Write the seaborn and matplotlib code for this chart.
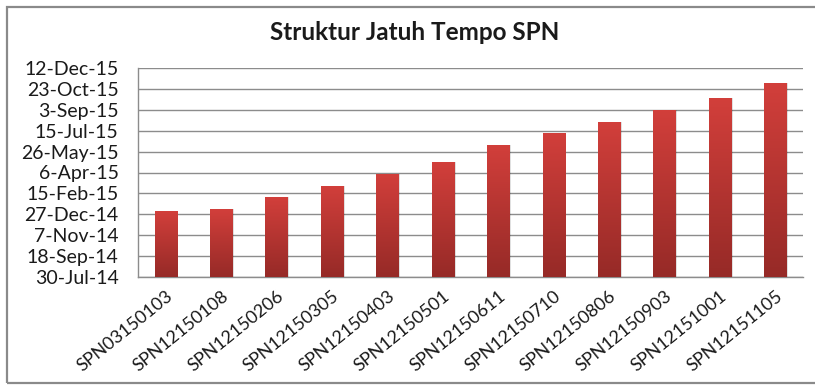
import numpy as np
import pandas as pd
import matplotlib
matplotlib.use("Agg")
import matplotlib.pyplot as plt
from matplotlib.ticker import FixedLocator, FuncFormatter
from matplotlib.patches import Rectangle
import seaborn as sns

# Series and their maturity dates
series = ["SPN03150103", "SPN12150108", "SPN12150206", "SPN12150305",
          "SPN12150403", "SPN12150501", "SPN12150611", "SPN12150710",
          "SPN12150806", "SPN12150903", "SPN12151001", "SPN12151105"]
maturity = ["2015-01-03", "2015-01-08", "2015-02-06", "2015-03-05",
            "2015-04-03", "2015-05-01", "2015-06-11", "2015-07-10",
            "2015-08-06", "2015-09-03", "2015-10-01", "2015-11-05"]

axis_start = "2014-07-30"
axis_step_days = 50
axis_n_ticks = 11

title = "Struktur Jatuh Tempo SPN"

sns.set_theme(style="white")
plt.rcParams["font.family"] = ["Lato", "DejaVu Sans"]

start = pd.Timestamp(axis_start)
mat = pd.to_datetime(maturity)
df = pd.DataFrame({"series": series,
                   "days": (mat - start).days.astype(float)})

fig = plt.figure(figsize=(8.15, 3.86), dpi=100)
ax = fig.add_axes([138 / 815, 1 - 277 / 386, (803 - 138) / 815, (277 - 68) / 386])

sns.barplot(data=df, x="series", y="days", color="#c0392b", width=0.4,
            ax=ax, zorder=3)

# vertical red gradient inside each bar
grad = np.linspace(0, 1, 256).reshape(-1, 1)
cmap = matplotlib.colors.LinearSegmentedColormap.from_list(
    "bar", ["#962a27", "#d23f3b"])
for p in list(ax.patches):
    x0, y0 = p.get_x(), p.get_y()
    w, h = p.get_width(), p.get_height()
    # soft shadow on the right
    sh = Rectangle((x0 + 0.03, y0), w, h, facecolor="#000000", alpha=0.12,
                   edgecolor="none", zorder=2)
    ax.add_patch(sh)
    im = ax.imshow(grad, extent=[x0, x0 + w, y0, y0 + h], origin="lower",
                   cmap=cmap, aspect="auto", zorder=4)
    im.set_clip_path(p)
    p.set_facecolor("none")
    p.set_edgecolor("none")

n_days = axis_step_days * (axis_n_ticks - 1)
ax.set_xlim(-0.5, len(series) - 0.5)
ax.set_ylim(0, n_days)
ticks = [i * axis_step_days for i in range(axis_n_ticks)]
ax.yaxis.set_major_locator(FixedLocator(ticks))


def fmt_date(v, pos):
    d = start + pd.Timedelta(days=v)
    return f"{d.day}-{d.strftime('%b')}-{d.strftime('%y')}"


ax.yaxis.set_major_formatter(FuncFormatter(fmt_date))
ax.grid(axis="y", color="#8c8c8c", linewidth=1.0, zorder=1)
ax.grid(axis="x", visible=False)
ax.set_axisbelow(True)

for s in ["top", "right"]:
    ax.spines[s].set_visible(False)
for s in ["left", "bottom"]:
    ax.spines[s].set_color("#8c8c8c")
    ax.spines[s].set_linewidth(1.0)

ax.tick_params(axis="y", length=0, pad=14, labelsize=14, labelcolor="#1a1a1a")
ax.tick_params(axis="x", length=0, pad=8, labelsize=13, labelcolor="#1a1a1a")
ax.set_xlabel("")
ax.set_ylabel("")
plt.setp(ax.get_xticklabels(), rotation=39, ha="right", rotation_mode="anchor")

fig.text(0.509, 1 - 33 / 386, title, ha="center", va="center",
         fontsize=17.5, fontweight="bold", color="#1a1a1a")

# outer chart frame
frame = Rectangle((7 / 815, 3 / 386), 1.0, 376 / 386, transform=fig.transFigure,
                  fill=False, edgecolor="#8a8a8a", linewidth=1.6)
fig.add_artist(frame)

fig.savefig("out.png", dpi=100, facecolor="white")
